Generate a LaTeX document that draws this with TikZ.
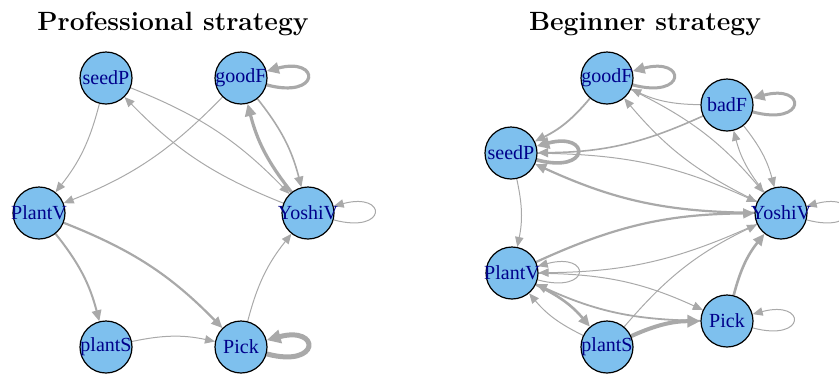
\documentclass[tikz,border=0pt]{standalone}
\usepackage{fontspec}
\newfontfamily\vfont{Liberation Serif}
\usetikzlibrary{arrows.meta}
\definecolor{vfill}{HTML}{7EC0EE}
\definecolor{vtext}{HTML}{00008B}
\definecolor{egray}{HTML}{A9A9A9}
\pgfdeclarelayer{edges}
\pgfsetlayers{edges,main}

\begin{document}
\begin{tikzpicture}[x=0.5pt,y=-0.5pt,
		vlab/.style={font=\vfont\fontsize{10}{12}\selectfont,text=vtext,inner sep=0pt},
		vtx/.style={circle,draw,line width=0.6pt,fill=vfill,minimum size=26pt,inner sep=0pt,label={[vlab]center:#1}},
		ar/.style={draw=egray,line width=#1,-{Triangle[length=4.5pt 1,width=3.6pt 1.2]}},
		ar/.default=0.5pt,
		ed/.style={ar=#1,bend left=12},
		ed/.default=0.5pt,
		self/.style={ar=#1,loop,out=-15,in=15,min distance=28pt},
		self/.default=0.5pt,
		ttl/.style={anchor=base,font=\fontsize{13.2}{16}\selectfont\bfseries}]
	\useasboundingbox (0,0) rectangle (839,377);
	\node[ttl] (protitle) at (173,30) {Professional strategy};
	\node[ttl] (begtitle) at (645,30) {Beginner strategy};
	% professional
	\node[vtx=seedP] (pro-seedP) at (106,78) {};
	\node[vtx=goodF] (pro-goodF) at (241,78) {};
	\node[vtx=PlantV] (pro-PlantV) at (39,213) {};
	\node[vtx=YoshiV] (pro-YoshiV) at (308,213) {};
	\node[vtx=plantS] (pro-plantS) at (106,347) {};
	\node[vtx=Pick] (pro-Pick) at (241,347) {};
	\begin{pgfonlayer}{edges}
		\draw[ed] (pro-seedP) to (pro-PlantV);
		\draw[ed] (pro-goodF) to (pro-PlantV);
		\draw[ed] (pro-seedP) to (pro-YoshiV);
		\draw[ed] (pro-YoshiV) to (pro-seedP);
		\draw[ed=0.8pt] (pro-goodF) to (pro-YoshiV);
		\draw[ed=1.6pt] (pro-YoshiV) to (pro-goodF);
		\draw[ed] (pro-Pick) to (pro-YoshiV);
		\draw[ed=1pt] (pro-PlantV) to (pro-plantS);
		\draw[ed=1.1pt] (pro-PlantV) to (pro-Pick);
		\draw[ed] (pro-plantS) to (pro-Pick);
		\draw[self=1.6pt] (pro-goodF) to (pro-goodF);
		\draw[self] (pro-YoshiV) to (pro-YoshiV);
		\draw[self=2.5pt] (pro-Pick) to (pro-Pick);
	\end{pgfonlayer}
	% beginner
	\node[vtx=goodF] (beg-goodF) at (607,78) {};
	\node[vtx=badF] (beg-badF) at (727,105) {};
	\node[vtx=seedP] (beg-seedP) at (511,153) {};
	\node[vtx=YoshiV] (beg-YoshiV) at (781,213) {};
	\node[vtx=PlantV] (beg-PlantV) at (512,273) {};
	\node[vtx=Pick] (beg-Pick) at (727,321) {};
	\node[vtx=plantS] (beg-plantS) at (607,347) {};
	\begin{pgfonlayer}{edges}
		\draw[ed=0.9pt] (beg-goodF) to (beg-seedP);
		\draw[ed] (beg-badF) to (beg-goodF);
		\draw[ed=0.8pt] (beg-badF) to (beg-seedP);
		\draw[ed] (beg-badF) to (beg-YoshiV);
		\draw[ed] (beg-YoshiV) to (beg-badF);
		\draw[ed] (beg-goodF) to (beg-YoshiV);
		\draw[ed] (beg-YoshiV) to (beg-goodF);
		\draw[ed] (beg-seedP) to (beg-YoshiV);
		\draw[ed=1.1pt] (beg-YoshiV) to (beg-seedP);
		\draw[ed] (beg-seedP) to (beg-PlantV);
		\draw[ed=1.1pt] (beg-PlantV) to (beg-YoshiV);
		\draw[ed] (beg-YoshiV) to (beg-PlantV);
		\draw[ed] (beg-PlantV) to (beg-Pick);
		\draw[ed=0.9pt] (beg-Pick) to (beg-PlantV);
		\draw[ed=1.3pt] (beg-PlantV) to (beg-plantS);
		\draw[ed] (beg-plantS) to (beg-PlantV);
		\draw[ed=2pt] (beg-plantS) to (beg-Pick);
		\draw[ed] (beg-plantS) to (beg-YoshiV);
		\draw[ed=1.3pt] (beg-Pick) to (beg-YoshiV);
		\draw[self=1.5pt] (beg-goodF) to (beg-goodF);
		\draw[self=1.5pt] (beg-badF) to (beg-badF);
		\draw[self=1.8pt] (beg-seedP) to (beg-seedP);
		\draw[self] (beg-PlantV) to (beg-PlantV);
		\draw[self] (beg-Pick) to (beg-Pick);
		\draw[self] (beg-YoshiV) to (beg-YoshiV);
	\end{pgfonlayer}
\end{tikzpicture}
\end{document}
